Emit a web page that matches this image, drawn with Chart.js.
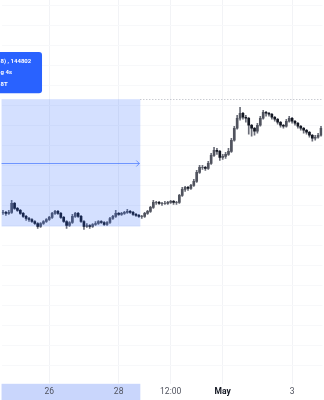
<!DOCTYPE html>
<html>
<head>
<meta charset="utf-8">
<script src="https://cdn.jsdelivr.net/npm/chart.js@4.4.1/dist/chart.umd.min.js"></script>
<style>
html, body { margin: 0; padding: 0; background: #fff; }
canvas { display: block; }
</style>
</head>
<body>
<canvas id="chart" width="324" height="400"></canvas>
<script>
// 2h candles
const firstOpen = 88;
const closes = [
  88, 87, 88, 97, 92, 90, 87, 84, 82, 81,
  79, 77, 74, 77, 79, 81, 83, 87, 89, 87,
  83, 79, 75, 78, 84, 87, 84, 79, 74, 75,
  74, 76, 77, 79, 78, 76, 78, 82, 84, 87,
  86, 87, 88, 89, 88, 86, 85, 84, 84, 87,
  89, 93, 98, 98, 97, 97, 97, 98, 99, 98,
  98, 105, 111, 113, 112, 115, 119, 128, 133, 133,
  132, 137, 145, 150, 149, 143, 144, 146, 149, 160,
  172, 182, 187, 183, 182, 175, 172, 169, 175, 182,
  188, 187, 186, 183, 181, 178, 175, 174, 179, 182,
  179, 177, 174, 172, 170, 168, 165, 162, 163, 165,
  172
];
const highs = [
  90, 89, 90, 100, 98, 93, 91, 88, 85, 83,
  82, 80, 78, 78, 80, 82, 84, 88, 90, 90,
  88, 84, 80, 79, 86, 88, 88, 85, 80, 77,
  76, 77, 79, 80, 80, 79, 79, 83, 85, 90,
  88, 88, 89, 91, 90, 89, 87, 86, 85, 88,
  90, 94, 100, 99, 99, 98, 99, 99, 100, 100,
  99, 106, 113, 114, 114, 116, 121, 130, 135, 135,
  134, 139, 147, 153, 152, 150, 146, 148, 152, 162,
  174, 185, 193, 188, 185, 183, 176, 173, 177, 184,
  190, 189, 188, 187, 184, 182, 179, 176, 181, 184,
  183, 180, 178, 175, 173, 171, 169, 166, 165, 167,
  174
];
const lows = [
  86, 85, 86, 87, 91, 89, 86, 83, 80, 79,
  78, 76, 72, 73, 76, 78, 80, 82, 86, 86,
  82, 78, 72, 74, 77, 83, 83, 78, 71, 73,
  72, 73, 75, 76, 77, 75, 75, 77, 81, 83,
  85, 85, 86, 87, 87, 85, 84, 83, 82, 83,
  86, 88, 92, 96, 96, 95, 96, 96, 97, 96,
  96, 97, 104, 109, 110, 111, 114, 118, 127, 131,
  130, 131, 136, 144, 146, 140, 141, 142, 145, 148,
  159, 171, 180, 181, 178, 166, 164, 165, 167, 174,
  181, 184, 184, 181, 179, 176, 173, 172, 173, 178,
  177, 175, 172, 170, 167, 166, 163, 159, 160, 162,
  164
];
const tickIndex = [16, 40, 58, 76, 100];
const tickText = ['26', '28', '12:00', 'May', '3'];
const gridPrices = [-65, -45, -25, -5, 15, 35, 55, 75, 95, 115, 135, 155, 175, 195, 215, 235, 255, 275, 295];
const labelLines = ['8) , 144802', 'g 4s', '8T'];

// drawing tool, in data units
const priceLine = 201;
const rangeEnd = 47.5;
const rangeHigh = 201;
const rangeLow = 74;
const arrowPrice = 137;
const boxEnd = 13.5;
const boxHigh = 248;
const boxLow = 207;

const opens = closes.map((c, i) => i === 0 ? firstOpen : closes[i - 1]);
const labels = closes.map((c, i) => i);

const upColor = '#50535e';
const downColor = '#131722';

const overlay = {
    id: 'overlay',
    beforeDraw(chart) {
        const {ctx, chartArea: a, scales: {x}} = chart;
        const x1 = x.getPixelForValue(rangeEnd);
        ctx.save();
        ctx.fillStyle = '#c9d6fc';
        ctx.fillRect(a.left, x.top, x1 - a.left, x.bottom - x.top);
        ctx.restore();
    },
    afterDatasetsDraw(chart) {
        const {ctx, chartArea: a, scales: {x, y}} = chart;
        ctx.save();
        // range box
        const x1 = x.getPixelForValue(rangeEnd);
        const yt = y.getPixelForValue(rangeHigh);
        const yb = y.getPixelForValue(rangeLow);
        ctx.fillStyle = 'rgba(41, 98, 255, 0.2)';
        ctx.fillRect(a.left, yt, x1 - a.left, yb - yt);

        // dotted price line
        const yp = Math.round(y.getPixelForValue(priceLine)) + 0.5;
        ctx.strokeStyle = '#b2b5be';
        ctx.lineWidth = 1;
        ctx.setLineDash([1, 2]);
        ctx.beginPath();
        ctx.moveTo(x1, yp);
        ctx.lineTo(a.right, yp);
        ctx.stroke();
        ctx.setLineDash([]);

        // arrow
        const ya = Math.round(y.getPixelForValue(arrowPrice)) + 0.5;
        ctx.strokeStyle = 'rgba(41, 98, 255, 0.6)';
        ctx.beginPath();
        ctx.moveTo(a.left, ya);
        ctx.lineTo(x1 - 1, ya);
        ctx.moveTo(x1 - 4, ya - 3);
        ctx.lineTo(x1 - 1, ya);
        ctx.lineTo(x1 - 4, ya + 3);
        ctx.stroke();

        // info label
        const bx = x.getPixelForValue(boxEnd);
        const bt = y.getPixelForValue(boxHigh);
        const bb = y.getPixelForValue(boxLow);
        ctx.fillStyle = '#2962ff';
        ctx.beginPath();
        ctx.roundRect(a.left - 5, bt, bx - a.left + 5, bb - bt, 3);
        ctx.fill();
        ctx.fillStyle = '#fff';
        ctx.font = 'bold 6px Roboto';
        ctx.textBaseline = 'middle';
        const step = (bb - bt) / 3.6;
        labelLines.forEach((t, i) => {
            ctx.fillText(t, a.left - 1, bt + step * (0.8 + i));
        });
        ctx.restore();
    }
};

new Chart(document.getElementById('chart'), {
    type: 'bar',
    data: {
        labels: labels,
        datasets: [
            {
                label: 'wick',
                data: closes.map((c, i) => [lows[i], highs[i]]),
                backgroundColor: '#6a6d78',
                barThickness: 1,
                grouped: false,
                order: 2
            },
            {
                label: 'body',
                data: closes.map((c, i) => [opens[i], c]),
                backgroundColor: closes.map((c, i) => c >= opens[i] ? upColor : downColor),
                barThickness: 2,
                grouped: false,
                order: 1
            }
        ]
    },
    options: {
        responsive: false,
        animation: false,
        devicePixelRatio: 1,
        events: [],
        layout: { padding: 0 },
        plugins: {
            legend: { display: false },
            tooltip: { enabled: false }
        },
        scales: {
            x: {
                offset: true,
                border: { display: false },
                grid: {
                    offset: false,
                    drawTicks: false,
                    color: ctx => tickIndex.includes(ctx.index) ? '#f2f3f6' : 'rgba(0,0,0,0)'
                },
                ticks: {
                    autoSkip: false,
                    maxRotation: 0,
                    padding: 3,
                    callback: (v, i) => {
                        const k = tickIndex.indexOf(i);
                        return k < 0 ? '' : tickText[k];
                    },
                    color: ctx => ctx.tick && ctx.tick.label === 'May' ? '#131722' : '#50535e',
                    font: ctx => ({
                        family: 'Roboto',
                        size: 8.5,
                        weight: ctx.tick && ctx.tick.label === 'May' ? 'bold' : 'normal'
                    })
                }
            },
            y: {
                min: -83,
                max: 300,
                border: { display: false },
                grid: { drawTicks: false, color: '#f7f8fa' },
                ticks: { display: false },
                afterBuildTicks: scale => {
                    scale.ticks = gridPrices.map(v => ({ value: v }));
                }
            }
        }
    },
    plugins: [overlay]
});
</script>
</body>
</html>
